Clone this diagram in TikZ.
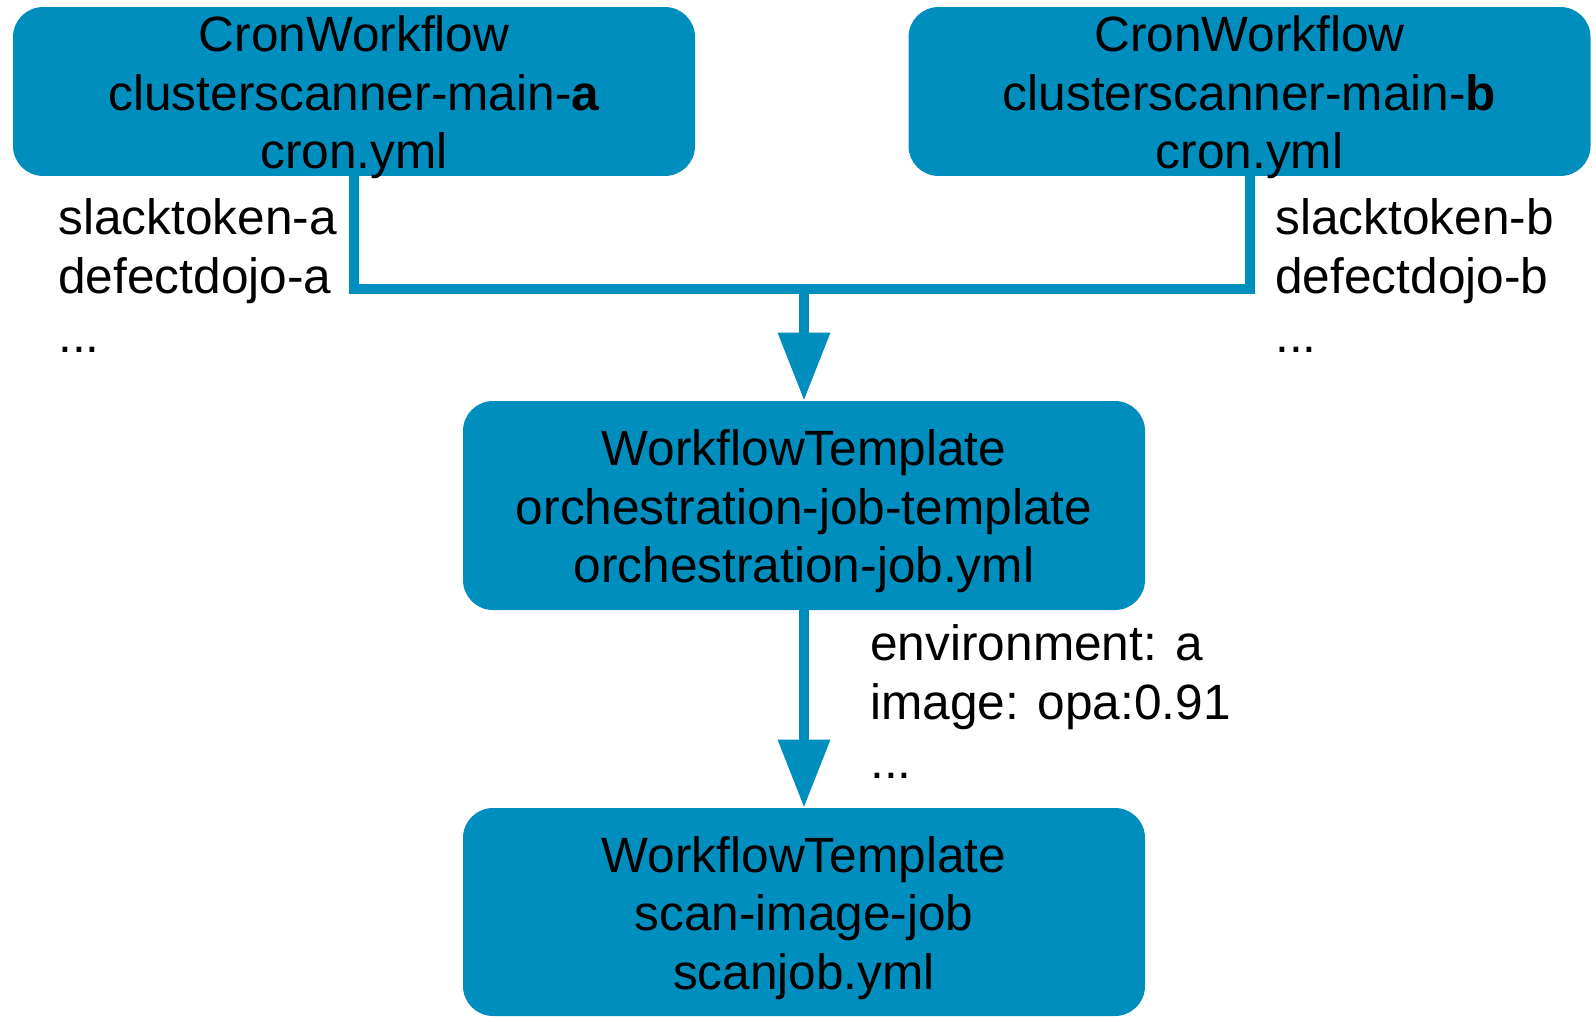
\documentclass[tikz,border=0pt]{standalone}
\usepackage{fontspec}
\setmainfont{Liberation Sans}
\usetikzlibrary{arrows.meta, positioning}
\definecolor{jobblue}{RGB}{0,142,190}
\newcommand{\jobstrut}{\rule{0pt}{24pt}}

\begin{document}
\begin{tikzpicture}[x=0.5pt, y=-0.5pt, >={Triangle[width=25pt,length=34pt]},
every node/.style={font=\fontsize{24.8}{29.3}\selectfont, inner sep=0pt},
job/.style={rectangle, rounded corners=15pt, fill=jobblue, align=center, minimum width=341pt},
params/.style={align=left, anchor=base west},
link/.style={draw=jobblue, line width=5pt, line join=miter}]

\useasboundingbox (0,0) rectangle (1596,1022);

\node [job, inner ysep=-1.65pt] (maina) at (354,91.5) {\jobstrut CronWorkflow\\clusterscanner-main-\textbf{a}\\cron.yml};
\node [job, inner ysep=-1.65pt] (mainb) at (1249.5,91.5) {\jobstrut CronWorkflow\\clusterscanner-main-\textbf{b}\\cron.yml};
\node [job, minimum height=104.5pt] (orch) at (804,505.5) {\jobstrut WorkflowTemplate\\orchestration-job-template\\orchestration-job.yml};
\node [job, minimum height=104pt] (scan) at (804,912) {\jobstrut WorkflowTemplate\\scan-image-job\\scanjob.yml};

\coordinate (join) at (804,289);
\draw [link] (maina.south) |- (join) -| (mainb.south);
\draw [link, ->] (join) -- (orch.north);
\draw [link, ->] (orch.south) -- (scan.north);

% base anchor sits on the last line
\node [params] (secretsa) at (58,352) {slacktoken-a\\defectdojo-a\\...};
\node [params] (secretsb) at (1275,352) {slacktoken-b\\defectdojo-b\\...};
\node [params] (args) at (870,778) {environment: a\\image: opa:0.91\\...};

\end{tikzpicture}
\end{document}
